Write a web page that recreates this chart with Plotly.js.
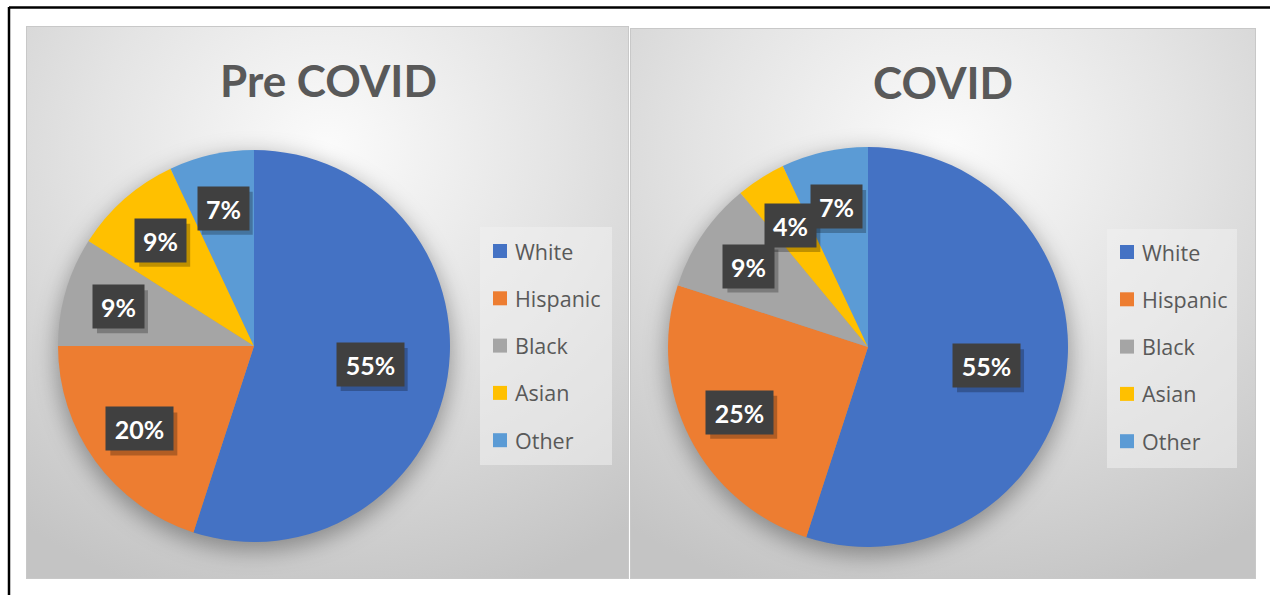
<!DOCTYPE html>
<html>
<head>
<meta charset="utf-8">
<script src="https://cdn.plot.ly/plotly-3.0.1.min.js"></script>
<style>html,body{margin:0;padding:0;background:#fff;}#chart{width:1270px;height:595px;}</style>
</head>
<body>
<div id="chart"></div>
<script>
// ---- data ----
const categories = ['White', 'Hispanic', 'Black', 'Asian', 'Other'];
const preCovidValues = [55, 20, 9, 9, 7];
const covidValues = [55, 25, 9, 4, 7];
const chartTitles = ['Pre COVID', 'COVID'];
const sliceColors = ['#4472C4', '#ED7D31', '#A5A5A5', '#FFC000', '#5B9BD5'];

// ---- layout geometry (pixels) ----
const W = 1270, H = 595;
const pies = [
  {cx: 254, cy: 346, r: 196, values: preCovidValues, title: chartTitles[0], titleX: 328, titleY: 80,
   legendX: 480, legendY: 227, legendW: 132, legendH: 238, legendFirst: 251},
  {cx: 868, cy: 347, r: 200, values: covidValues, title: chartTitles[1], titleX: 943, titleY: 82,
   legendX: 1107, legendY: 229, legendW: 130, legendH: 239, legendFirst: 252}
];
const legendStep = 47.3;
const px = x => x / W;
const py = y => 1 - y / H;

// ---- background (panels, pie shadows, frame) ----
let svg = '<svg xmlns="http://www.w3.org/2000/svg" width="1270" height="595" viewBox="0 0 1270 595">' +
  '<defs><radialGradient id="g" cx="50%" cy="22%" r="85%">' +
  '<stop offset="0" stop-color="#fbfbfb"/><stop offset="0.45" stop-color="#e4e4e4"/><stop offset="1" stop-color="#c4c4c4"/>' +
  '</radialGradient>' +
  '<filter id="b" x="-30%" y="-30%" width="160%" height="160%"><feGaussianBlur stdDeviation="11"/></filter></defs>' +
  '<rect x="26.5" y="26.5" width="602" height="552" fill="url(#g)" stroke="#c8c8c8"/>' +
  '<rect x="630.5" y="28.5" width="625" height="550" fill="url(#g)" stroke="#c8c8c8"/>';
pies.forEach(p => {
  svg += '<circle cx="' + p.cx + '" cy="' + (p.cy + 7) + '" r="' + (p.r + 2) + '" fill="rgba(0,0,0,0.33)" filter="url(#b)"/>';
  svg += '<rect x="' + p.legendX + '" y="' + p.legendY + '" width="' + p.legendW + '" height="' + p.legendH + '" fill="rgba(240,240,240,0.55)"/>';
});
svg += '<line x1="9" y1="7.5" x2="1270" y2="7.5" stroke="#000" stroke-width="2.5"/>' +
  '<line x1="9" y1="7" x2="9" y2="595" stroke="#000" stroke-width="2.5"/></svg>';

// ---- traces ----
const traces = pies.map(p => ({
  type: 'pie',
  labels: categories,
  values: p.values,
  sort: false,
  direction: 'clockwise',
  rotation: 0,
  textinfo: 'none',
  marker: {colors: sliceColors, line: {width: 0}},
  domain: {x: [px(p.cx - p.r), px(p.cx + p.r)], y: [py(p.cy + p.r), py(p.cy - p.r)]},
  showlegend: false,
  hovertemplate: '%{label}: %{value}%<extra></extra>'
}));

// ---- annotations: titles, data labels, legends ----
const annotations = [];
const shapes = [];
pies.forEach(p => {
  annotations.push({
    text: '<b>' + p.title + '</b>', xref: 'paper', yref: 'paper', x: px(p.titleX), y: py(p.titleY),
    xanchor: 'center', yanchor: 'middle', showarrow: false,
    font: {family: 'Lato, "Open Sans", sans-serif', size: 44, color: '#595959'}
  });
  const total = p.values.reduce((a, b) => a + b, 0);
  let cum = 0;
  p.values.forEach((v, i) => {
    const mid = (cum + v / 2) / total * 2 * Math.PI;
    cum += v;
    const f = v / total >= 0.5 ? 0.6 : 0.72;
    const lx = p.cx + Math.sin(mid) * p.r * f;
    const ly = p.cy - Math.cos(mid) * p.r * f;
    const txt = v + '%';
    const bw = 16 * txt.length + 19, bh = 43;
    shapes.push({type: 'rect', xref: 'paper', yref: 'paper', layer: 'above',
      x0: px(lx - bw / 2 + 4), x1: px(lx + bw / 2 + 4), y0: py(ly + bh / 2 + 5), y1: py(ly - bh / 2 + 5),
      fillcolor: 'rgba(0,0,0,0.25)', line: {width: 0}});
    annotations.push({text: '<b>' + txt + '</b>', xref: 'paper', yref: 'paper', x: px(lx), y: py(ly),
      xanchor: 'center', yanchor: 'middle', showarrow: false, borderpad: 0,
      width: bw, height: bh, valign: 'middle', align: 'center',
      font: {family: 'Lato, sans-serif', size: 25, color: '#ffffff'},
      bgcolor: '#404040'});
  });
  categories.forEach((c, i) => {
    const yy = p.legendFirst + i * legendStep;
    const mx = p.legendX + 13;
    shapes.push({type: 'rect', xref: 'paper', yref: 'paper', x0: px(mx), x1: px(mx + 14),
      y0: py(yy + 7), y1: py(yy - 7), fillcolor: sliceColors[i], line: {width: 0}});
    annotations.push({text: c, xref: 'paper', yref: 'paper', x: px(mx + 20), y: py(yy),
      xanchor: 'left', yanchor: 'middle', showarrow: false,
      font: {family: '"Open Sans", sans-serif', size: 21.5, color: '#595959'}});
  });
});

const layout = {
  width: W, height: H,
  margin: {l: 0, r: 0, t: 0, b: 0},
  paper_bgcolor: '#ffffff',
  showlegend: false,
  images: [{source: 'data:image/svg+xml;charset=utf-8,' + encodeURIComponent(svg),
    xref: 'paper', yref: 'paper', x: 0, y: 1, sizex: 1, sizey: 1, sizing: 'stretch',
    xanchor: 'left', yanchor: 'top', layer: 'below'}],
  shapes: shapes,
  annotations: annotations
};

Plotly.newPlot('chart', traces, layout, {displayModeBar: false, staticPlot: true});
</script>
</body>
</html>
